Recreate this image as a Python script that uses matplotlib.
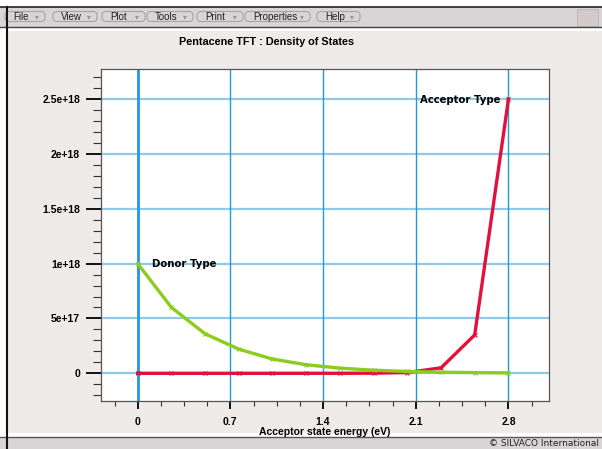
import matplotlib
matplotlib.use('Agg')
import matplotlib.pyplot as plt
import matplotlib.patches as mpatches
from matplotlib.ticker import MultipleLocator, FixedLocator

# ── data ──────────────────────────────────────────────────────────────────
energy = [0.0, 0.255, 0.509, 0.764, 1.018, 1.273, 1.527, 1.782, 2.036,
          2.291, 2.545, 2.8]
donor = [1.0e18, 6.0e17, 3.6e17, 2.2e17, 1.3e17, 7.8e16, 4.7e16, 2.8e16,
         1.7e16, 1.0e16, 6.1e15, 3.7e15]
acceptor = [1.2e9, 8e9, 6e10, 4e11, 3e12, 2e13, 1.4e14, 1e15, 7e15,
            5e16, 3.5e17, 2.5e18]
x_ticks = [0, 0.7, 1.4, 2.1, 2.8]
x_ticklabels = ['0', '0.7', '1.4', '2.1', '2.8']
y_ticks = [0, 5e17, 1e18, 1.5e18, 2e18, 2.5e18]
y_ticklabels = ['0', '5e+17', '1e+18', '1.5e+18', '2e+18', '2.5e+18']
menus = ['File', 'View', 'Plot', 'Tools', 'Print', 'Properties', 'Help']

W, H = 602, 449
PANEL = '#efebe8'
BAR = '#d9d4d6'
GREEN = '#8ccc1c'
RED = '#e2103c'
HGRID = '#8fcbe8'
VGRID = '#1f9bd8'

fig = plt.figure(figsize=(W / 100, H / 100), dpi=100)
fig.patch.set_facecolor('white')

# ── window chrome, drawn in pixel coordinates ─────────────────────────────
bg = fig.add_axes([0, 0, 1, 1])
bg.set_xlim(0, W)
bg.set_ylim(H, 0)
bg.axis('off')


def rect(x, y, w, h, fc, ec='none', lw=0):
    bg.add_patch(mpatches.Rectangle((x, y), w, h, facecolor=fc,
                                    edgecolor=ec, lw=lw))


rect(0, 7, W, 20, BAR)
bg.plot([0, W], [7, 7], color='#222222', lw=1.2)
bg.plot([0, W], [27, 27], color='#444444', lw=1.0)
rect(7, 31, W - 7, 402, PANEL)
rect(0, 437, W, 12, BAR)
bg.plot([0, W], [436.5, 436.5], color='#555555', lw=1.0)
bg.plot([7, 7], [7, 449], color='#111111', lw=1.5)
rect(577, 9, 21, 17, '#d2cacb', ec='#bbb3b4', lw=0.6)

# menu buttons
btn_x = [5, 53, 102, 147, 197, 245, 317]
btn_w = [40, 44, 43, 46, 46, 65, 43]
for name, bx, bw in zip(menus, btn_x, btn_w):
    bg.add_patch(mpatches.FancyBboxPatch((bx, 11.5), bw, 10,
                 boxstyle='round,pad=0,rounding_size=4',
                 facecolor=BAR, edgecolor='#a9a3a5', lw=0.8))
    bg.text(bx + 8, 16.8, name, fontsize=7, color='#222222',
            ha='left', va='center', family='Liberation Sans')
    bg.text(bx + bw - 6, 17, '\u25be', fontsize=5.5, color='#9a9597',
            ha='right', va='center', family='DejaVu Sans')

bg.text(267, 42, 'Pentacene TFT : Density of States', fontsize=7.8,
        fontweight='bold', ha='center', va='center', family='Liberation Sans')
bg.text(599, 443, '\u00a9 SILVACO International', fontsize=6.5,
        ha='right', va='center', color='#222222', family='DejaVu Sans')

# ── data axes ─────────────────────────────────────────────────────────────
ax = fig.add_axes([101 / W, 1 - 401 / H, 448 / W, 332 / H])
ax.set_facecolor('white')
ax.set_xlim(-0.277, 3.106)
ax.set_ylim(-0.2525e18, 2.774e18)

for y in y_ticks:
    ax.axhline(y, color=HGRID, lw=1.6, zorder=1)
for x in x_ticks:
    ax.axvline(x, color=VGRID, lw=2.0 if x == 0 else 1.0, zorder=1)

ax.plot(energy, acceptor, color=RED, lw=2.4, marker='x', ms=3.5, mew=0.8,
        zorder=3)
ax.plot(energy, donor, color=GREEN, lw=2.4, marker='x', ms=3.5, mew=0.8,
        zorder=4)

ax.text(0.11, 1.0e18, 'Donor Type', fontsize=7.3, fontweight='bold',
        ha='left', va='center', family='DejaVu Sans', zorder=5)
ax.text(2.74, 2.49e18, 'Acceptor Type', fontsize=7.3, fontweight='bold',
        ha='right', va='center', family='DejaVu Sans', zorder=5)

ax.xaxis.set_major_locator(FixedLocator(x_ticks))
ax.set_xticklabels(x_ticklabels)
ax.xaxis.set_minor_locator(MultipleLocator(0.175))
ax.yaxis.set_major_locator(FixedLocator(y_ticks))
ax.set_yticklabels(y_ticklabels)
ax.yaxis.set_minor_locator(MultipleLocator(1e17))

ax.tick_params(axis='x', which='major', direction='out', length=5.5,
               width=1.4, color='#111111', pad=6)
ax.tick_params(axis='x', which='minor', direction='out', length=3.5,
               width=0.8, color='#333333')
ax.tick_params(axis='y', which='major', direction='out', length=11,
               width=1.4, color='#111111', pad=4)
ax.tick_params(axis='y', which='minor', direction='out', length=6,
               width=0.8, color='#333333')
for lab in ax.get_xticklabels() + ax.get_yticklabels():
    lab.set_fontsize(7.5)
    lab.set_fontweight('bold')
    lab.set_family('Liberation Sans')

ax.set_xlabel('Acceptor state energy (eV)', fontsize=7.5, fontweight='bold',
              family='Liberation Sans', labelpad=0)
for s in ax.spines.values():
    s.set_color('#555555')
    s.set_linewidth(0.9)

fig.savefig('out.png', dpi=100, facecolor=fig.get_facecolor())
